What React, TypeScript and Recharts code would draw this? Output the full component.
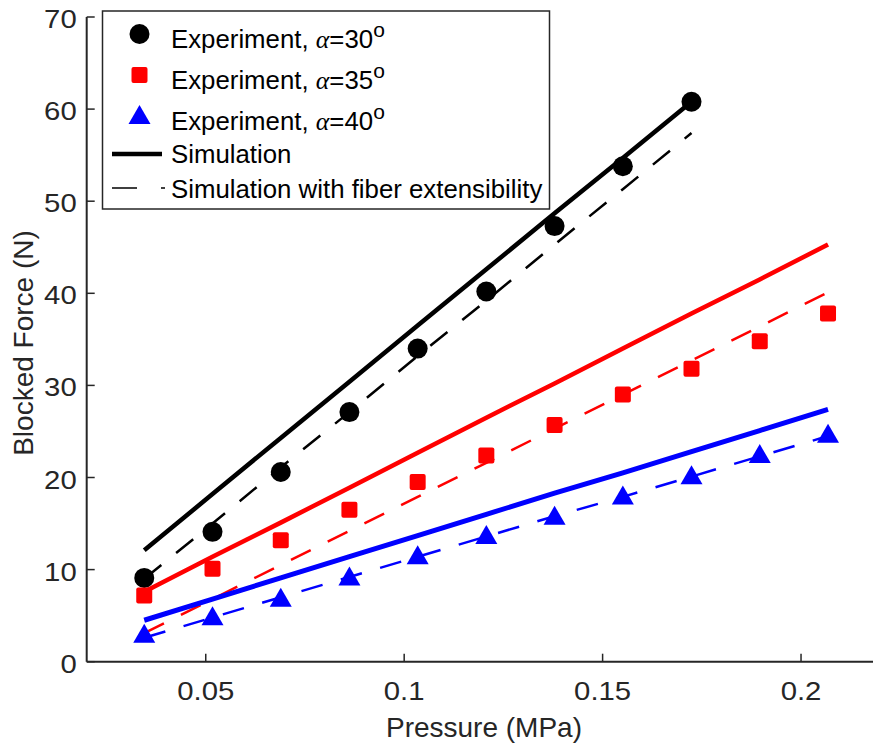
import { ComposedChart, Line, Scatter, XAxis, YAxis } from 'recharts';

// pressure steps (MPa)
const pressures = [0.0345, 0.0517, 0.0689, 0.0862, 0.1034, 0.1207, 0.1379, 0.1551, 0.1724, 0.1896, 0.2068];

// experiment points (N)
const exp30 = [9.1, 14.1, 20.6, 27.1, 34.0, 40.2, 47.3, 53.8, 60.8];
const exp35 = [7.2, 10.1, 13.2, 16.5, 19.5, 22.4, 25.7, 29.0, 31.8, 34.8, 37.8];
const exp40 = [3.1, 5.0, 7.0, 9.3, 11.6, 13.8, 15.9, 18.1, 20.3, 22.6, 24.8];

// simulation (solid) and simulation with fiber extensibility (dashed)
const sim30 = [12.1, 18.2, 24.3, 30.4, 36.5, 42.6, 48.7, 54.7, 60.8];
const simExt30 = [9.0, 15.0, 21.1, 27.1, 33.2, 39.2, 45.3, 51.3, 57.4];
const sim35 = [7.6, 11.4, 15.1, 18.9, 22.7, 26.5, 30.2, 34.0, 37.8, 41.5, 45.3];
const simExt35 = [3.1, 6.8, 10.5, 14.2, 17.9, 21.6, 25.3, 29.0, 32.7, 36.4, 40.1];
const sim40 = [4.5, 6.8, 9.1, 11.4, 13.7, 16.0, 18.3, 20.5, 22.8, 25.1, 27.4];
const simExt40 = [2.6, 4.8, 7.0, 9.2, 11.4, 13.6, 15.8, 17.9, 20.1, 22.3, 24.5];

const xTicks = [0.05, 0.1, 0.15, 0.2];
const yTicks = [0, 10, 20, 30, 40, 50, 60, 70];

const AXIS = '#262626';
const FONT = '"Liberation Sans", Arial, sans-serif';

const toPoints = (vals: number[]) => vals.map((f, i) => ({ p: pressures[i], f }));

// tick labels in the original are a bit wider than Arial
const XTick = ({ x, y, payload }: any) => (
  <g>
    <line x1={x} y1={y} x2={x} y2={y - 8} stroke={AXIS} strokeWidth={1.5} />
    <text
      transform={`translate(${x},${y + 38}) scale(1.15,1)`}
      textAnchor="middle"
      fontSize={25.5}
      fontFamily={FONT}
      fill={AXIS}
    >
      {payload.value}
    </text>
  </g>
);

const YTick = ({ x, y, payload }: any) => (
  <g>
    <line x1={x} y1={y} x2={x + 8} y2={y} stroke={AXIS} strokeWidth={1.5} />
    <text
      transform={`translate(${x - 10},${y + 11}) scale(1.15,1)`}
      textAnchor="end"
      fontSize={25.5}
      fontFamily={FONT}
      fill={AXIS}
    >
      {payload.value}
    </text>
  </g>
);

const Dot = ({ cx, cy }: any) => <circle cx={cx} cy={cy} r={10} fill="#000" />;
const Sq = ({ cx, cy }: any) => <rect x={cx - 8} y={cy - 8} width={16} height={16} rx={2} fill="#f00" />;
const Tri = ({ cx, cy }: any) => (
  <polygon points={`${cx},${cy - 9.5} ${cx - 11},${cy + 9.5} ${cx + 11},${cy + 9.5}`} fill="#00f" />
);

function LegendBox() {
  const txt = { fontSize: 25.8, fontFamily: FONT, fill: '#000' };
  const row = (deg: string, y: number) => (
    <text x={70} y={y} {...txt}>
      Experiment, <tspan fontFamily='"Liberation Serif", serif' fontStyle="italic">α</tspan>={deg}
      <tspan dy={-11} fontSize={21}>o</tspan>
    </text>
  );
  return (
    <svg width={452} height={202} style={{ position: 'absolute', left: 101, top: 10 }}>
      <rect x={1.5} y={1} width={447} height={198} fill="#fff" stroke={AXIS} strokeWidth={1.5} />
      <circle cx={38.5} cy={24} r={10} fill="#000" />
      <rect x={30.5} y={57} width={16} height={16} rx={2} fill="#f00" />
      <polygon points="38.5,95 27.5,114 49.5,114" fill="#00f" />
      {row('30', 38)}
      {row('35', 79)}
      {row('40', 120)}
      <line x1={11} y1={144} x2={61} y2={144} stroke="#000" strokeWidth={4.5} />
      <text x={70} y={153} {...txt}>Simulation</text>
      <line x1={11} y1={178} x2={64} y2={178} stroke="#000" strokeWidth={1.5} strokeDasharray="25 24" />
      <text x={70} y={188} {...txt}>Simulation with fiber extensibility</text>
    </svg>
  );
}

export default function App() {
  return (
    <div style={{ position: 'absolute', left: 0, top: 0, width: 873, height: 744, overflow: 'hidden', background: '#fff' }}>
      <ComposedChart width={890} height={744} margin={{ top: 17, right: 9.6, bottom: 0, left: 0 }}>
        <XAxis
          type="number"
          dataKey="p"
          domain={[0.02, 0.22]}
          ticks={xTicks}
          allowDataOverflow
          height={82.3}
          axisLine={{ stroke: AXIS, strokeWidth: 2 }}
          tickLine={false}
          tickSize={0}
          tickMargin={0}
          tick={<XTick />}
        />
        <YAxis
          type="number"
          dataKey="f"
          domain={[0, 70]}
          ticks={yTicks}
          width={86.7}
          axisLine={{ stroke: AXIS, strokeWidth: 2 }}
          tickLine={false}
          tickSize={0}
          tickMargin={0}
          tick={<YTick />}
        />
        <Line data={toPoints(sim30)} dataKey="f" stroke="#000" strokeWidth={4.5} dot={false} activeDot={false} isAnimationActive={false} />
        <Line data={toPoints(simExt30)} dataKey="f" stroke="#000" strokeWidth={2.5} strokeDasharray="22 19" dot={false} activeDot={false} isAnimationActive={false} />
        <Line data={toPoints(sim35)} dataKey="f" stroke="#f00" strokeWidth={4.5} dot={false} activeDot={false} isAnimationActive={false} />
        <Line data={toPoints(simExt35)} dataKey="f" stroke="#f00" strokeWidth={2.5} strokeDasharray="22 19" dot={false} activeDot={false} isAnimationActive={false} />
        <Line data={toPoints(sim40)} dataKey="f" stroke="#00f" strokeWidth={5} dot={false} activeDot={false} isAnimationActive={false} />
        <Line data={toPoints(simExt40)} dataKey="f" stroke="#00f" strokeWidth={2.5} strokeDasharray="22 19" dot={false} activeDot={false} isAnimationActive={false} />
        <Scatter data={toPoints(exp30)} dataKey="f" shape={<Dot />} isAnimationActive={false} />
        <Scatter data={toPoints(exp35)} dataKey="f" shape={<Sq />} isAnimationActive={false} />
        <Scatter data={toPoints(exp40)} dataKey="f" shape={<Tri />} isAnimationActive={false} />
      </ComposedChart>
      <svg width={873} height={744} style={{ position: 'absolute', left: 0, top: 0, pointerEvents: 'none' }}>
        <text x={484} y={737} textAnchor="middle" fontSize={28} fontFamily={FONT} fill={AXIS}>
          Pressure (MPa)
        </text>
        <text
          x={33}
          y={343}
          textAnchor="middle"
          fontSize={28}
          fontFamily={FONT}
          fill={AXIS}
          transform="rotate(-90 33 343)"
        >
          Blocked Force (N)
        </text>
      </svg>
      <LegendBox />
    </div>
  );
}
